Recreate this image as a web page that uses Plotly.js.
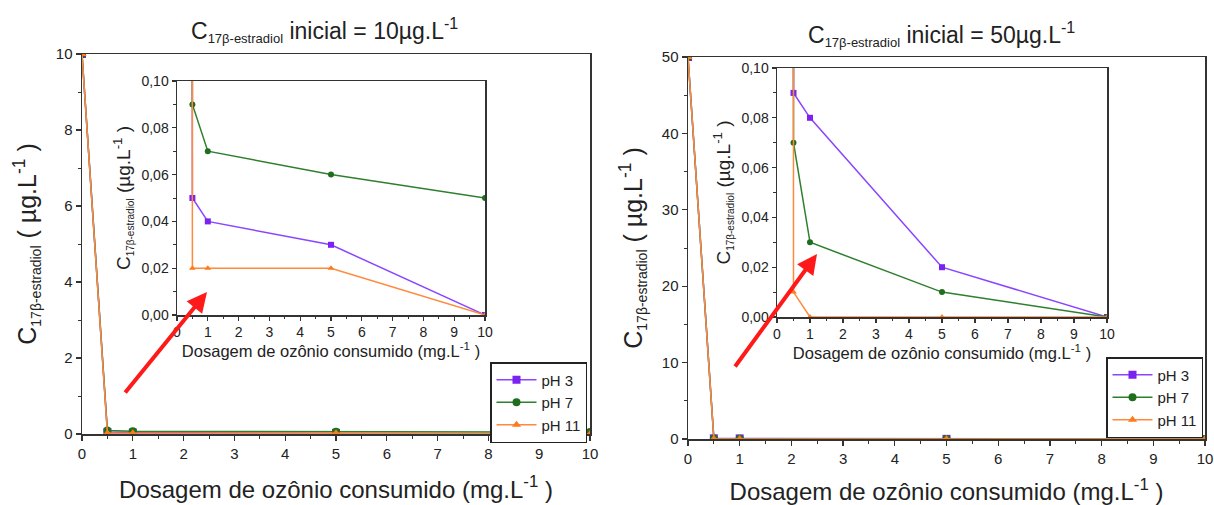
<!DOCTYPE html>
<html>
<head>
<meta charset="utf-8">
<script src="https://cdn.plot.ly/plotly-3.0.1.min.js"></script>
<style>html,body{margin:0;padding:0;background:#fff}</style>
</head>
<body>
<div id="chart" style="width:1214px;height:505px"></div>
<script>
// Ozone dose consumed (mg/L) for every series
const dose = [0, 0.5, 1, 5, 10];

// 17β-estradiol remaining, initial concentration 10 µg/L
const c10_pH3  = [10, 0.05, 0.04, 0.03, 0];
const c10_pH7  = [10, 0.09, 0.07, 0.06, 0.05];
const c10_pH11 = [10, 0.02, 0.02, 0.02, 0];

// 17β-estradiol remaining, initial concentration 50 µg/L
const c50_pH3  = [50, 0.09, 0.08, 0.02, 0];
const c50_pH7  = [50, 0.07, 0.03, 0.01, 0];
const c50_pH11 = [50, 0.01, 0, 0, 0];

const seriesNames = ['pH 3', 'pH 7', 'pH 11'];
const titles = [
  'C<sub><span style="font-size:13px">17β-estradiol</span></sub> inicial = 10µg.L<sup>-1</sup>',
  'C<sub><span style="font-size:13px">17β-estradiol</span></sub> inicial = 50µg.L<sup>-1</sup>'
];
const xTitle = 'Dosagem de ozônio consumido (mg.L<sup>-1</sup> )';
const yTitleMain = 'C<sub><span style="font-size:14px">17β-estradiol</span></sub> ( µg.L<sup>-1</sup> )';
const yTitleInset = 'C<sub><span style="font-size:10px">17β-estradiol</span></sub> (µg.L<sup>-1</sup> )';

const W = 1214, H = 505;
const fx = p => p / W;
const fy = p => 1 - p / H;

const styles = [
  {line: '#8a45ff', marker: '#7a22f2', symbol: 'square'},
  {line: '#2f7f2f', marker: '#1e6e1e', symbol: 'circle'},
  {line: '#ff8a3d', marker: '#ff7a1a', symbol: 'triangle-up'}
];

const FONT = 'Liberation Sans, Arial, sans-serif';
const AX = '#333';

function traces(sets, xa, ya, legendId, inset) {
  return sets.map((ys, i) => ({
    x: dose, y: ys, xaxis: xa, yaxis: ya,
    type: 'scatter', mode: 'lines+markers',
    name: seriesNames[i],
    legend: legendId,
    showlegend: !inset,
    line: {color: styles[i].line, width: 1.5},
    marker: {color: styles[i].marker, symbol: styles[i].symbol, size: inset ? 6 : 8}
  }));
}

function axis(opts) {
  const base = {
    showline: true, linecolor: AX, linewidth: 1.5, mirror: true,
    showgrid: false, zeroline: false,
    ticks: 'outside', ticklen: 5, tickwidth: 1.2, tickcolor: AX,
    tickfont: {family: FONT, size: 15, color: '#222'},
    automargin: false, fixedrange: true
  };
  return Object.assign(base, opts);
}
const minorTicks = (d, len) => ({dtick: d, ticks: 'outside', ticklen: len, tickwidth: 1, tickcolor: AX, showgrid: false});

const data = [
  ...traces([c10_pH3, c10_pH7, c10_pH11], 'x', 'y', 'legend', false),
  ...traces([c10_pH3, c10_pH7, c10_pH11], 'x2', 'y2', 'legend', true),
  ...traces([c50_pH3, c50_pH7, c50_pH11], 'x3', 'y3', 'legend2', false),
  ...traces([c50_pH3, c50_pH7, c50_pH11], 'x4', 'y4', 'legend2', true)
];

const mainXTitle = {text: xTitle, font: {family: FONT, size: 24, color: '#222'}, standoff: 20};
const insetXTitle = {text: xTitle, font: {family: FONT, size: 16.5, color: '#222'}, standoff: 5};
const insetTick = {family: FONT, size: 14, color: '#222'};
const mainYTitle = {text: yTitleMain, font: {family: FONT, size: 25, color: '#222'}, standoff: 12};
const insetYTitle = {text: yTitleInset, font: {family: FONT, size: 19, color: '#222'}, standoff: 6};

const legendStyle = (x, y) => ({
  x: x, y: y, xanchor: 'left', yanchor: 'top',
  bgcolor: '#fff', bordercolor: '#222', borderwidth: 1.5,
  font: {family: FONT, size: 15, color: '#222'},
  itemwidth: 40, tracegroupgap: 0
});

const layout = {
  width: W, height: H,
  margin: {l: 0, r: 0, t: 0, b: 0},
  paper_bgcolor: '#fff', plot_bgcolor: '#fff',
  separators: ',.',
  font: {family: FONT, color: '#222'},
  // left panel: 10 µg/L
  xaxis: axis({domain: [fx(82), fx(590)], range: [0, 10], dtick: 1, minor: minorTicks(0.5, 3), title: mainXTitle}),
  yaxis: axis({domain: [fy(434), fy(54)], range: [0, 10], dtick: 2, minor: minorTicks(1, 3), title: mainYTitle}),
  xaxis2: axis({domain: [fx(177), fx(485)], anchor: 'y2', range: [0, 10], dtick: 1, minor: minorTicks(0.5, 2.5),
    tickfont: insetTick, title: insetXTitle, ticklen: 4}),
  yaxis2: axis({domain: [fy(315), fy(81)], anchor: 'x2', range: [0, 0.1], dtick: 0.02, tickformat: '.2f', minor: minorTicks(0.01, 2.5),
    tickfont: insetTick, ticklen: 4, title: insetYTitle}),
  // right panel: 50 µg/L
  xaxis3: axis({domain: [fx(688), fx(1205)], anchor: 'y3', range: [0, 10], dtick: 1, minor: minorTicks(0.5, 3), title: mainXTitle}),
  yaxis3: axis({domain: [fy(439), fy(57)], anchor: 'x3', range: [0, 50], dtick: 10, minor: minorTicks(5, 3), title: mainYTitle}),
  xaxis4: axis({domain: [fx(777), fx(1107)], anchor: 'y4', range: [0, 10], dtick: 1, minor: minorTicks(0.5, 2.5),
    tickfont: insetTick, title: insetXTitle, ticklen: 4}),
  yaxis4: axis({domain: [fy(317), fy(68)], anchor: 'x4', range: [0, 0.1], dtick: 0.02, tickformat: '.2f', minor: minorTicks(0.01, 2.5),
    tickfont: insetTick, ticklen: 4, title: insetYTitle}),
  legend: legendStyle(fx(490), fy(362)),
  legend2: legendStyle(fx(1106), fy(357)),
  annotations: [
    {xref: 'paper', yref: 'paper', x: fx(324), y: fy(30), text: titles[0], showarrow: false,
     xanchor: 'center', yanchor: 'middle', font: {family: FONT, size: 23, color: '#222'}},
    {xref: 'paper', yref: 'paper', x: fx(942), y: fy(34), text: titles[1], showarrow: false,
     xanchor: 'center', yanchor: 'middle', font: {family: FONT, size: 23, color: '#222'}},
    // zoom arrows pointing at the inset region
    {xref: 'paper', yref: 'paper', x: fx(207), y: fy(292), ax: -83, ay: 102, text: '',
     showarrow: true, arrowcolor: '#ff1a1a', arrowwidth: 4, arrowhead: 2, arrowsize: 1},
    {xref: 'paper', yref: 'paper', x: fx(817), y: fy(254), ax: -83, ay: 114, text: '',
     showarrow: true, arrowcolor: '#ff1a1a', arrowwidth: 4, arrowhead: 2, arrowsize: 1}
  ]
};

Plotly.newPlot('chart', data, layout, {displayModeBar: false, staticPlot: true});
</script>
</body>
</html>
